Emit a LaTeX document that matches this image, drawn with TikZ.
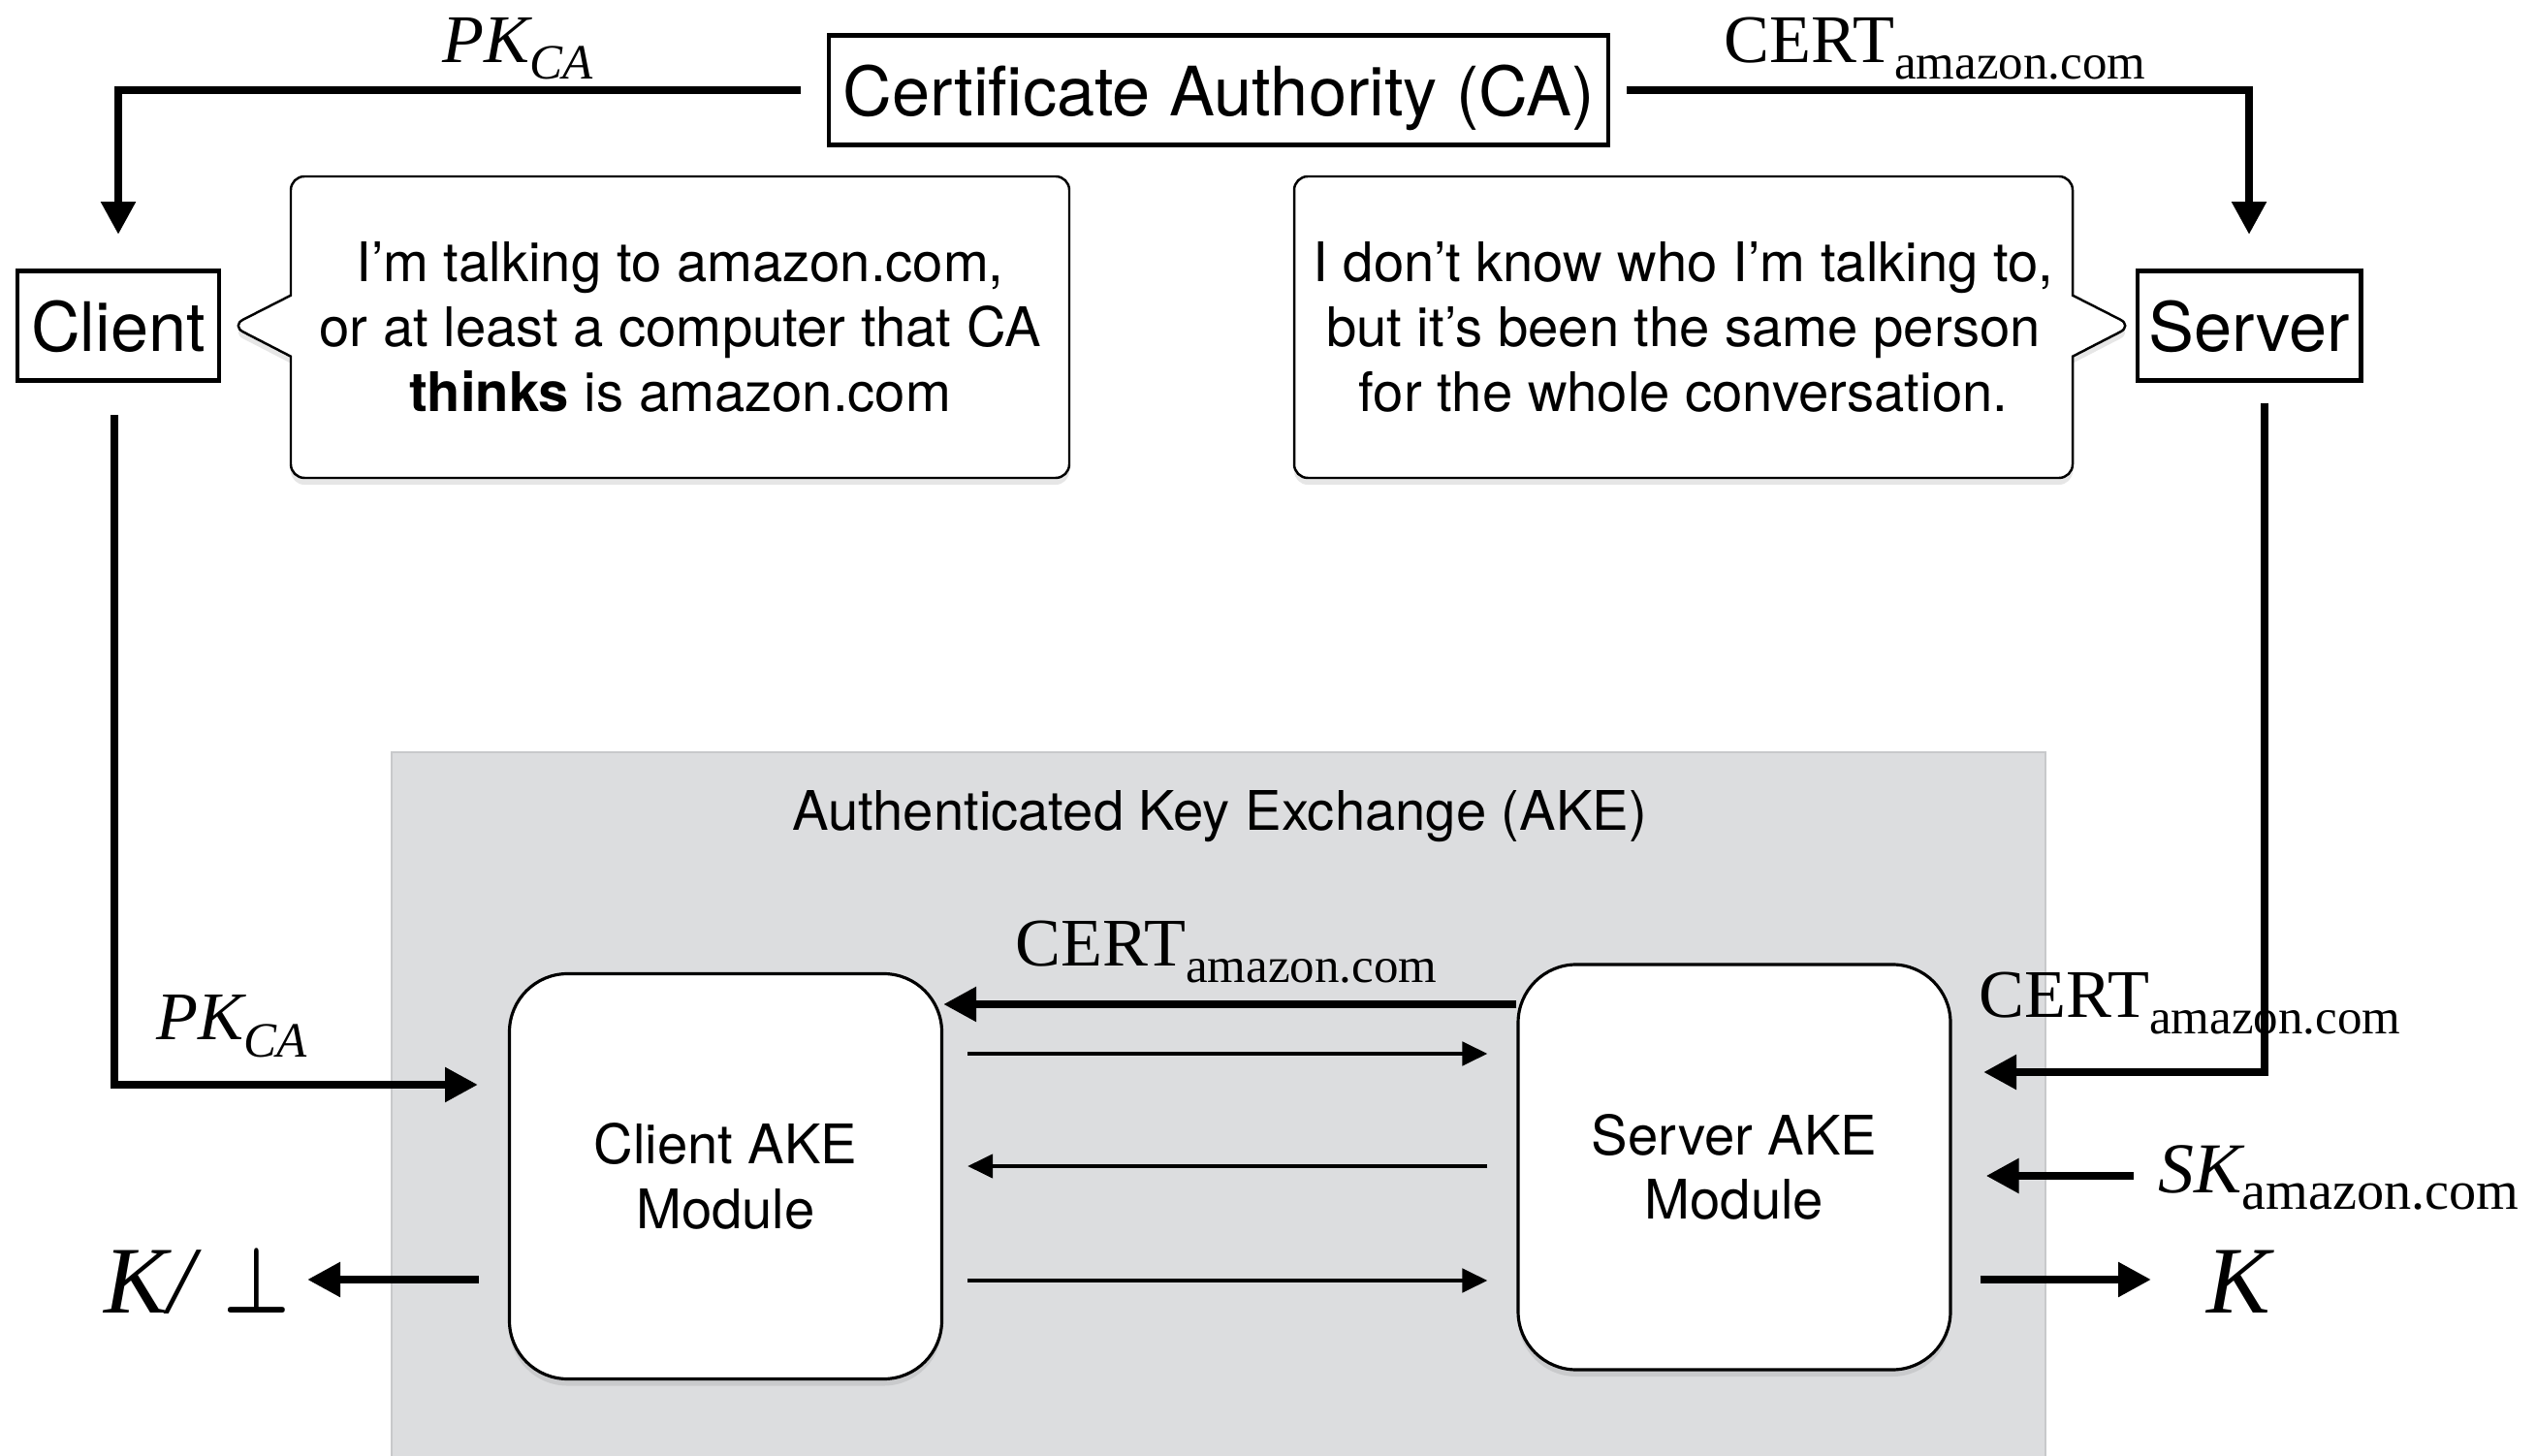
\documentclass[tikz,border=0pt]{standalone}
\usepackage{fontspec}
\setmainfont{TeX Gyre Heros}
\newfontfamily\tms{Liberation Serif}
\usetikzlibrary{arrows.meta,shapes.callouts,shadows,positioning}
\definecolor{akegray}{RGB}{220,221,223}
\definecolor{akeedge}{RGB}{200,201,203}
\newcommand\lblsub[3][14.5]{#2\raisebox{-0.17cm}{\fontsize{#1}{#1}\selectfont #3}}

\begin{document}
\begin{tikzpicture}[
    bigarrow/.style={line width=2.4pt,-{Triangle[length=0.34cm,width=0.34cm]}},
    smallarrow/.style={line width=1.3pt,-{Triangle[length=0.26cm,width=0.24cm]}},
    party/.style={draw,line width=1.4pt,inner sep=0pt,minimum height=1.13cm,text depth=0pt,
        font=\fontsize{20}{24}\selectfont},
    bubble/.style={rectangle callout,draw,line width=0.7pt,rounded corners=4pt,fill=white,
        minimum width=8.03cm,minimum height=3.11cm,callout pointer width=0.63cm,
        align=center,font=\fontsize{16}{19}\selectfont,
        drop shadow={opacity=0.2,shadow xshift=0pt,shadow yshift=-2pt}},
    module/.style={draw,line width=0.9pt,rounded corners=0.6cm,fill=white,
        minimum width=4.46cm,minimum height=4.18cm,align=center,
        font=\fontsize{16}{19}\selectfont,
        drop shadow={opacity=0.2,shadow xshift=0pt,shadow yshift=-2pt}},
    keylbl/.style={inner sep=0pt,anchor=base west,font=\tms\fontsize{20}{24}\selectfont},
    outlbl/.style={inner sep=0pt,anchor=base west,font=\tms\itshape\fontsize{28}{32}\selectfont}
  ]
  \useasboundingbox (0,0) rectangle (26.16,15.01);

  % parties and the CA
  \node[party,minimum width=8.04cm] (ca) at (12.57,14.08) {Certificate Authority (CA)};
  \node[party,minimum width=2.08cm] (client) at (1.22,11.65) {Client};
  \node[party,minimum width=2.3cm] (server) at (23.2,11.65) {Server};

  \node[bubble,callout absolute pointer={([xshift=0.1cm]client.east)}] (clientsays) at (7.015,11.635)
    {I’m talking to amazon.com,\\or at least a computer that CA\\\textbf{thinks} is amazon.com};
  \node[bubble,callout absolute pointer={([xshift=-0.03cm]server.west)}] (serversays) at (17.365,11.635)
    {I don’t know who I’m talking to,\\but it’s been the same person\\for the whole conversation.};

  \draw[bigarrow] ([xshift=-0.27cm]ca.west) -| ([yshift=0.35cm]client.north);
  \draw[bigarrow] ([xshift=0.17cm]ca.east) -| ([yshift=0.35cm]server.north);
  \node[keylbl] (pktop) at (4.56,14.36) {\lblsub{{\itshape PK}}{\itshape CA}};
  \node[keylbl] (certtop) at (17.78,14.36) {\lblsub{CERT}{amazon.com}};

  % the AKE box
  \draw[fill=akegray,draw=akeedge,line width=0.6pt] (4.04,-0.2) rectangle (21.10,7.25);
  \node[font=\fontsize{16}{19}\selectfont] (aketitle) at (12.58,6.59) {Authenticated Key Exchange (AKE)};

  \node[module] (cliake) at (7.485,2.875) {Client AKE\\Module};
  \node[module] (srvake) at (17.89,2.97) {Server AKE\\Module};

  \draw[bigarrow] (srvake.west |- 0,4.65) -- (cliake.east |- 0,4.65);
  \node[keylbl] (certmid) at (10.47,5.04) {\lblsub{CERT}{amazon.com}};
  \draw[smallarrow,shorten <=0.25cm,shorten >=0.30cm] (cliake.east |- 0,4.14) -- (srvake.west |- 0,4.14);
  \draw[smallarrow,shorten <=0.30cm,shorten >=0.25cm] (srvake.west |- 0,2.98) -- (cliake.east |- 0,2.98);
  \draw[smallarrow,shorten <=0.25cm,shorten >=0.30cm] (cliake.east |- 0,1.80) -- (srvake.west |- 0,1.80);

  % client side in and out
  \coordinate (pkin) at (4.93,3.82);
  \draw[bigarrow] ([xshift=-0.04cm,yshift=-0.33cm]client.south) |- (pkin);
  \node[keylbl] (pkbot) at (1.61,4.28) {\lblsub{{\itshape PK}}{\itshape CA}};
  \node[outlbl,anchor=base east,inner xsep=0.17cm] (kbot) at (3.17,1.47)
    {K/\hspace{0.3cm}\scalebox{0.88}[1.1]{\fontsize{24.88}{30}\selectfont\boldmath$\perp$}};
  \draw[bigarrow,shorten <=0.30cm] (cliake.west |- 0,1.81) -- (kbot.east |- 0,1.81);

  % server side in and out
  \coordinate (certin) at (20.46,3.95);
  \draw[bigarrow] ([xshift=0.16cm,yshift=-0.21cm]server.south) |- (certin);
  \node[keylbl] (certrt) at (20.41,4.51) {\lblsub{CERT}{amazon.com}};
  \node[keylbl,font=\tms\fontsize{21}{24}\selectfont] (sklbl) at (22.26,2.71)
    {\lblsub[16]{{\itshape SK}}{amazon.com}};
  \draw[bigarrow,shorten <=0.25cm,shorten >=0.35cm] (sklbl.west |- 0,2.88) -- (srvake.east |- 0,2.88);
  \node[outlbl] (ktop) at (22.76,1.47) {K};
  \draw[bigarrow,shorten <=0.29cm,shorten >=0.57cm] (srvake.east |- 0,1.81) -- (ktop.west |- 0,1.81);
\end{tikzpicture}
\end{document}
